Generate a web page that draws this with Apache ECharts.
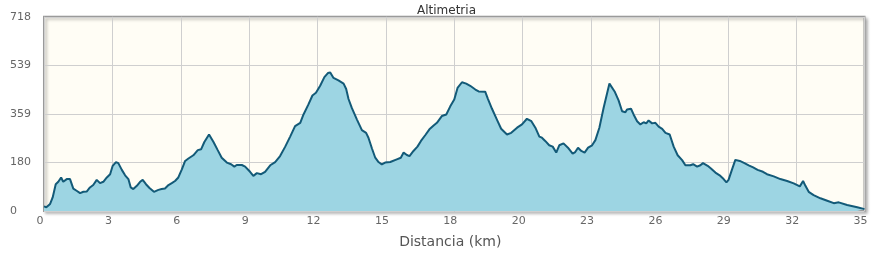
<!DOCTYPE html>
<html>
<head>
<meta charset="utf-8">
<script src="https://cdn.jsdelivr.net/npm/echarts@6/dist/echarts.min.js"></script>
<style>
html,body{margin:0;padding:0;background:#fff;}
#chart{width:886px;height:254px;}
</style>
</head>
<body>
<div id="chart"></div>
<script>
// Distance (km)
var distances = [0,0.1,0.26,0.37,0.5,0.61,0.73,0.82,0.97,1.11,1.25,1.39,1.54,1.68,1.82,1.96,2.1,2.25,2.39,2.53,2.68,2.82,2.93,3.07,3.17,3.32,3.46,3.6,3.7,3.81,3.96,4.1,4.21,4.35,4.5,4.69,4.88,5.02,5.16,5.31,5.45,5.59,5.73,5.88,6.02,6.16,6.37,6.56,6.7,6.84,7.04,7.23,7.41,7.58,7.8,7.98,8.12,8.22,8.44,8.58,8.79,8.93,9.08,9.26,9.43,9.65,9.86,10.07,10.29,10.5,10.71,10.93,11.07,11.28,11.45,11.6,11.78,11.96,12.11,12.21,12.35,12.56,12.78,12.89,12.99,13.13,13.35,13.56,13.74,13.84,13.99,14.13,14.27,14.41,14.55,14.77,15.05,15.22,15.34,15.48,15.59,15.76,15.93,16.08,16.26,16.44,16.62,16.76,16.97,17.16,17.33,17.5,17.64,17.83,18.01,18.18,18.4,18.54,18.82,18.94,19.11,19.32,19.5,19.75,19.93,20.18,20.39,20.6,20.79,20.96,21.13,21.24,21.38,21.55,21.7,21.85,21.98,22.16,22.35,22.55,22.66,22.78,22.92,23.06,23.21,23.38,23.52,23.69,23.87,24.12,24.34,24.51,24.66,24.8,24.87,25.04,25.15,25.3,25.44,25.58,25.69,25.79,25.94,26.08,26.22,26.37,26.51,26.69,26.86,27.03,27.22,27.36,27.57,27.69,27.86,28.0,28.11,28.31,28.45,28.64,28.82,28.99,29.11,29.2,29.35,29.49,29.68,29.88,30.06,30.25,30.44,30.67,30.84,31.13,31.41,31.7,31.98,32.24,32.38,32.48,32.62,32.83,33.12,33.41,33.69,33.9,34.26,34.69,35];
// Elevation (m)
var elevations = [17,14,26,50,99,108,124,108,118,118,83,75,66,71,72,87,96,115,103,108,124,136,167,181,177,152,132,118,87,81,93,108,115,99,85,71,78,81,83,96,103,111,124,154,185,194,206,225,228,255,283,255,225,197,179,173,164,170,170,164,145,130,140,136,145,169,181,203,238,275,314,326,357,394,427,437,463,495,510,512,492,483,471,451,414,381,338,299,289,271,231,197,181,172,179,181,191,197,216,207,203,222,238,259,280,302,316,326,351,357,387,412,455,476,471,463,449,442,441,414,378,338,304,283,289,308,320,341,332,308,275,271,259,243,238,216,243,250,234,212,218,234,222,216,234,243,262,308,381,471,442,409,369,365,375,378,357,332,320,328,324,335,324,326,312,304,289,283,238,206,188,169,169,173,164,169,177,167,157,142,132,118,106,115,154,189,185,177,169,161,152,145,136,128,118,111,102,91,111,93,71,59,47,38,29,32,22,14,7];
var xMax = 35;
var yMax = 718;
var xTickCount = 12;
var yTickCount = 4;
var titleText = 'Altimetria';
var xAxisName = 'Distancia (km)';

var seriesData = distances.map(function (d, i) { return [d, elevations[i]]; });

var chart = echarts.init(document.getElementById('chart'), null, {renderer: 'canvas'});
chart.setOption({
  animation: false,
  backgroundColor: '#ffffff',
  title: {
    text: titleText,
    left: 412,
    top: 0,
    textStyle: {fontFamily: 'DejaVu Sans', fontSize: 12, fontWeight: 'normal', color: '#333'}
  },
  grid: {
    left: 44, right: 21.5, top: 16.8, bottom: 42,
    show: true,
    backgroundColor: '#fffdf5',
    borderColor: '#9a9a9a',
    borderWidth: 2,
    shadowColor: 'rgba(0,0,0,0.25)',
    shadowBlur: 3,
    shadowOffsetX: 2,
    shadowOffsetY: 2
  },
  xAxis: {
    type: 'value',
    min: 0,
    max: xMax,
    interval: xMax / xTickCount,
    name: xAxisName,
    nameLocation: 'middle',
    nameGap: 24,
    nameTextStyle: {fontFamily: 'DejaVu Sans', fontSize: 14, color: '#555', padding: [0, 8, 0, 0]},
    axisLine: {show: false},
    axisTick: {show: false},
    axisLabel: {
      formatter: function (v) { return String(Math.round(v)); },
      fontFamily: 'DejaVu Sans', fontSize: 11, color: '#666', margin: 5,
      padding: [0, 8, 0, 0]
    },
    splitLine: {show: true, lineStyle: {color: '#cfcfcf', width: 1}}
  },
  yAxis: {
    type: 'value',
    min: 0,
    max: yMax,
    interval: yMax / yTickCount,
    axisLine: {show: false},
    axisTick: {show: false},
    axisLabel: {
      formatter: function (v) { return String(Math.round(v)); },
      fontFamily: 'DejaVu Sans', fontSize: 11, color: '#666', margin: 34, align: 'left'
    },
    splitLine: {show: true, lineStyle: {color: '#cfcfcf', width: 1}}
  },
  series: [{
    type: 'line',
    data: seriesData,
    showSymbol: false,
    smooth: false,
    lineStyle: {color: '#135a78', width: 2},
    areaStyle: {color: '#9dd5e3', opacity: 1}
  }]
});
</script>
</body>
</html>
